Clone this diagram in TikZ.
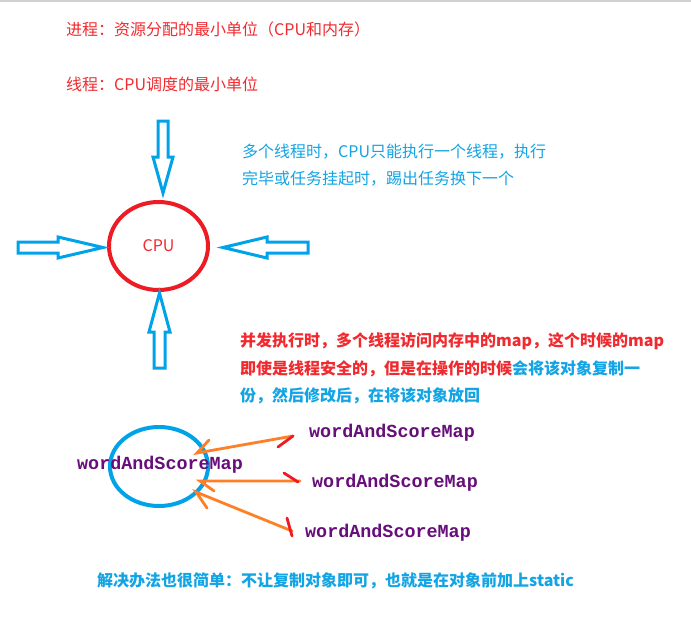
\documentclass[tikz,border=0pt]{standalone}
\usepackage{fontspec}
\usetikzlibrary{shapes.geometric}
\newfontfamily\cjk{Noto Sans CJK SC}
\newfontfamily\codefont{Liberation Mono}
\definecolor{paintred}{HTML}{ED1C24}
\definecolor{paintblue}{HTML}{00A2E8}
\definecolor{paintorange}{HTML}{FF7F27}
\definecolor{textred}{HTML}{F02A2F}
\definecolor{textblue}{HTML}{12A4E4}
\definecolor{fieldpurple}{HTML}{660E7A}
\begin{document}
\begin{tikzpicture}[x=1pt,y=-1pt,
  note/.style={inner sep=0pt, anchor=base west, font=\cjk\fontsize{16}{20}\selectfont},
  rednote/.style={note, text=textred},
  bluenote/.style={note, text=textblue},
  field/.style={inner sep=0pt, anchor=base west, text=fieldpurple,
                font=\codefont\bfseries\fontsize{18.4}{22}\selectfont},
  blockarrow/.style={draw=paintblue, line width=3pt, line join=miter},
  flow/.style={draw=paintorange, line width=2.8pt, line cap=round},
  tick/.style={draw=paintred, line width=2.8pt, line cap=round}]
\useasboundingbox (0,0) rectangle (691,621);
\fill[white] (0,0) rectangle (691,621);
\fill[black!18] (0,0) rectangle (691,1.5);

% definitions of process and thread
\node[rednote] (proc) at (66,35) {进程：资源分配的最小单位（CPU和内存）};
\node[rednote] (thr) at (66,90) {线程：CPU调度的最小单位};

% scheduling note
\node[bluenote] (sched1) at (242,157) {多个线程时，CPU只能执行一个线程，执行};
\node[bluenote] (sched2) at (242,184) {完毕或任务挂起时，踢出任务换下一个};

% the CPU with threads pressing in from four sides
\node[ellipse, draw=paintred, line width=4pt, minimum width=99pt, minimum height=88pt,
      inner sep=0pt, text=textred, font=\cjk\fontsize{16}{20}\selectfont] (cpu) at (158.5,246) {CPU};

\draw[blockarrow] (158,121) -- (168,121) -- (168,157) -- (173,157) -- (163,193)
                  -- (153,157) -- (158,157) -- cycle;
\draw[blockarrow] (18,242) -- (58,242) -- (58,237) -- (103,247.5) -- (58,258)
                  -- (58,253) -- (18,253) -- cycle;
\draw[blockarrow] (308,242) -- (267,242) -- (267,237) -- (223,247.5) -- (267,258)
                  -- (267,253) -- (308,253) -- cycle;
\draw[blockarrow] (154,368) -- (165,368) -- (165,332) -- (170,332) -- (159.5,293)
                  -- (149,332) -- (154,332) -- cycle;

% concurrency note
\node[rednote, font=\cjk\bfseries\fontsize{16}{20}\selectfont] (conc1) at (240,346)
  {并发执行时，多个线程访问内存中的map，这个时候的map};
\node[rednote, font=\cjk\bfseries\fontsize{16}{20}\selectfont] (conc2) at (240,374)
  {即使是线程安全的，但是在操作的时候\textcolor{textblue}{会将该对象复制一}};
\node[bluenote, font=\cjk\bfseries\fontsize{16}{20}\selectfont] (conc3) at (240,401)
  {份，然后修改后，在将该对象放回};

% the shared map and its copies
\node[ellipse, draw=paintblue, line width=4pt, minimum width=98pt, minimum height=79pt,
      inner sep=0pt] (map) at (159,466.5) {};
\node[field] (mapname) at (77,469) {wordAndScoreMap};
\node[field] (copy1) at (309,437) {wordAndScoreMap};
\node[field] (copy2) at (312,487) {wordAndScoreMap};
\node[field] (copy3) at (305,537) {wordAndScoreMap};

\coordinate (in1) at (197,453);  \coordinate (out1) at (293,436);
\coordinate (in2) at (200,481);  \coordinate (out2) at (300,481);
\coordinate (in3) at (196,492);  \coordinate (out3) at (292,531);

\draw[flow] (out1) -- (in1) -- ++(12,-13);
\draw[flow] (out2) -- (in2) -- ++(14,10);
\draw[flow] (out3) -- (in3) -- ++(11,16);
\draw[tick] (278,447) -- (out1);
\draw[tick] (284,473) -- (298,482);
\draw[tick] (287,518) -- (292,536);

% the remedy
\node[bluenote, font=\cjk\bfseries\fontsize{16}{20}\selectfont] (fix) at (97,586)
  {解决办法也很简单：不让复制对象即可，也就是在对象前加上static};
\end{tikzpicture}
\end{document}
